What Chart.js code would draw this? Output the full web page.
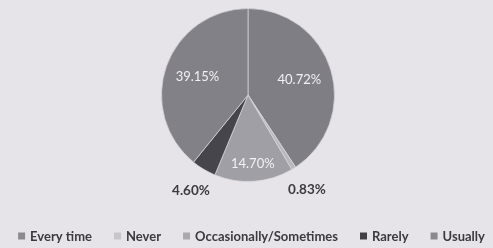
<!DOCTYPE html>
<html>
<head>
<meta charset="utf-8">
<script src="https://cdn.jsdelivr.net/npm/chart.js@4/dist/chart.umd.min.js"></script>
<style>
html,body{margin:0;padding:0;background:#e7e4e9;}
#wrap{width:493px;height:248px;position:relative;}
</style>
</head>
<body>
<div id="wrap"><canvas id="c" width="493" height="248"></canvas></div>
<script>
const categories = ["Every time", "Never", "Occasionally/Sometimes", "Rarely", "Usually"];
const values = [40.72, 0.83, 14.70, 4.60, 39.15];
const valueLabels = ["40.72%", "0.83%", "14.70%", "4.60%", "39.15%"];

const sliceColors = ["#7f7e85", "#b9b8bd", "#a09fa5", "#46454b", "#828187"];
const legendColors = ["#8b8a90", "#c6c5ca", "#a9a8ad", "#414046", "#8a898f"];
// label placement: fraction of radius for inside labels, or 'out' for outside
const labelPlacement = [0.62, "out", 0.8, "out", 0.62];

const labelPlugin = {
  id: "sliceLabels",
  afterDatasetsDraw(chart) {
    const ctx = chart.ctx;
    const meta = chart.getDatasetMeta(0);
    ctx.save();
    ctx.textAlign = "center";
    ctx.textBaseline = "middle";
    meta.data.forEach((arc, i) => {
      const p = arc.getProps(["x", "y", "startAngle", "endAngle", "outerRadius"], true);
      const mid = (p.startAngle + p.endAngle) / 2;
      let r, color, font;
      if (labelPlacement[i] === "out") {
        r = p.outerRadius + 25;
        color = "#3b3a40";
        font = "bold 13.5px Lato, 'Open Sans', sans-serif";
      } else {
        r = p.outerRadius * labelPlacement[i];
        color = "#f2f1f4";
        font = "13px Lato, 'Open Sans', sans-serif";
      }
      ctx.font = font;
      ctx.fillStyle = color;
      ctx.fillText(valueLabels[i], p.x + Math.cos(mid) * r, p.y + Math.sin(mid) * r);
    });
    ctx.restore();
  }
};

const legendPlugin = {
  id: "bottomLegend",
  afterDraw(chart) {
    const ctx = chart.ctx;
    ctx.save();
    ctx.font = "bold 13px Lato, 'Open Sans', sans-serif";
    ctx.textBaseline = "middle";
    const box = 7, boxGap = 5, itemGap = 22;
    const widths = categories.map(t => ctx.measureText(t).width);
    const total = widths.reduce((a, w) => a + box + boxGap + w, 0) + itemGap * (categories.length - 1);
    let x = 251.5 - total / 2;
    const y = 236;
    categories.forEach((t, i) => {
      ctx.fillStyle = legendColors[i];
      ctx.fillRect(x, y - box / 2, box, box);
      x += box + boxGap;
      ctx.fillStyle = "#3b3a40";
      ctx.fillText(t, x, y + 1);
      x += widths[i] + itemGap;
    });
    ctx.restore();
  }
};

new Chart(document.getElementById("c"), {
  type: "pie",
  data: {
    labels: categories,
    datasets: [{
      data: values,
      backgroundColor: sliceColors,
      borderColor: "rgba(220,218,224,0.7)",
      borderWidth: 1
    }]
  },
  options: {
    responsive: false,
    animation: false,
    rotation: 0,
    layout: { padding: { top: 8, bottom: 66, left: 3, right: 0 } },
    plugins: {
      legend: { display: false },
      tooltip: { enabled: false }
    }
  },
  plugins: [labelPlugin, legendPlugin]
});
</script>
</body>
</html>
